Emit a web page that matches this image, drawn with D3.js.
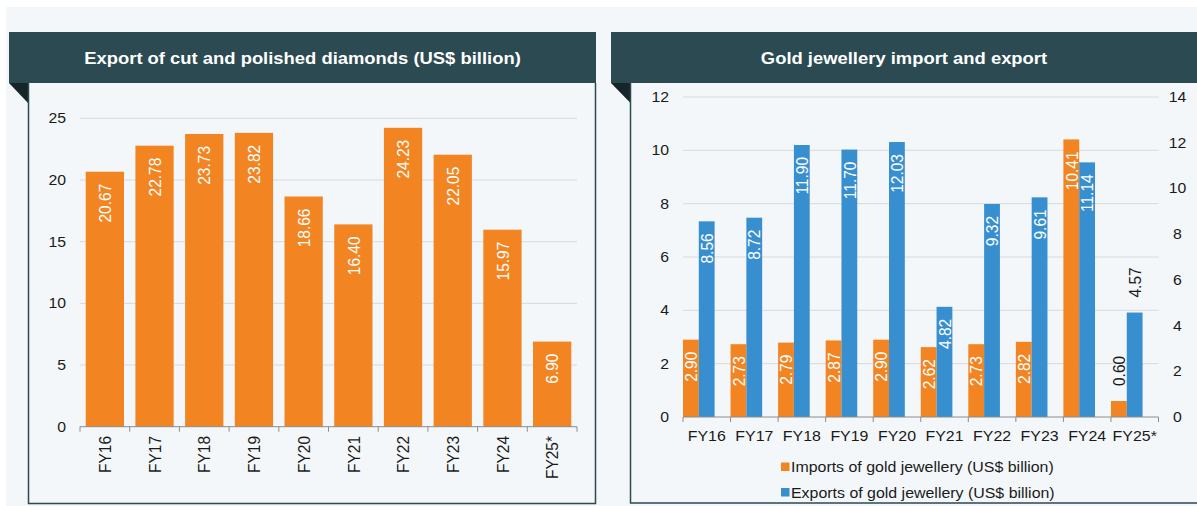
<!DOCTYPE html>
<html><head><meta charset="utf-8">
<script src="https://cdn.jsdelivr.net/npm/d3@7"></script>
<style>
html,body{margin:0;padding:0;background:#fff;}
svg{display:block;font-family:"Liberation Sans",Arial,sans-serif;}
</style></head><body>
<svg id="chart" width="1197" height="506"></svg>
<script>
const categories = ["FY16","FY17","FY18","FY19","FY20","FY21","FY22","FY23","FY24","FY25*"];
const diamondExports = [20.67,22.78,23.73,23.82,18.66,16.40,24.23,22.05,15.97,6.90];
const goldImports = [2.90,2.73,2.79,2.87,2.90,2.62,2.73,2.82,10.41,0.60];
const goldExports = [8.56,8.72,11.90,11.70,12.03,4.82,9.32,9.61,11.14,4.57];
const diamondTicks = [0,5,10,15,20,25];
const goldLeftTicks = [0,2,4,6,8,10,12];
const goldRightTicks = [0,2,4,6,8,10,12,14];
const titles = ["Export of cut and polished diamonds (US$ billion)","Gold jewellery import and export"];
const legendLabels = ["Imports of gold jewellery (US$ billion)","Exports of gold jewellery (US$ billion)"];

const ORANGE = "#f28522", BLUE = "#388fd0", HEAD = "#2b4a52", TRI = "#16252a";
const BG = "#f3f7f9", GRID = "#d9d9d9", AXIS = "#8c8c8c", TXT = "#1a1a1a";
const SX = 1.13;

const svg = d3.select("#chart");
svg.append("rect").attr("width",1197).attr("height",506).attr("fill","#fff");
svg.append("rect").attr("x",6).attr("y",7).attr("width",1191).attr("height",499).attr("fill",BG);

function panel(x0, x1, triX, bottom, title) {
  svg.append("rect").attr("x",x0).attr("y",32).attr("width",x1-x0).attr("height",51).attr("fill",HEAD);
  svg.append("path").attr("d",`M${x0},83 L${triX},83 L${triX},103 Z`).attr("fill",TRI);
  svg.append("text").attr("transform",`translate(${(x0+x1)/2},58) scale(${SX},1)`)
    .attr("text-anchor","middle").attr("dominant-baseline","central")
    .attr("fill","#fff").attr("font-weight","bold").attr("font-size",16.3).text(title);
}
panel(9, 596, 28, 504, titles[0]);
svg.append("path").attr("d","M28.5,83 V503.5 H595.5 V83").attr("fill","none").attr("stroke",HEAD).attr("stroke-width",1.5);
panel(611, 1197, 630.5, 503, titles[1]);
svg.append("path").attr("d","M630.5,83 V503 H1197").attr("fill","none").attr("stroke",HEAD).attr("stroke-width",1.5);

function vtext(g, x, y, str, anchor, color, size) {
  g.append("text").attr("transform",`translate(${x},${y}) rotate(-90) scale(1,1.08)`)
    .attr("text-anchor",anchor).attr("dominant-baseline","central")
    .attr("fill",color).attr("font-size",size).text(str);
}

// ---------- Left chart ----------
{
  const g = svg.append("g");
  const x = d3.scaleBand().domain(categories).range([80,577]).paddingInner(0.23).paddingOuter(0.115);
  const y = d3.scaleLinear().domain([0,25]).range([426.7,118.3]);
  g.selectAll(".grid").data(diamondTicks.filter(t=>t>0)).join("line")
    .attr("x1",80).attr("x2",577).attr("y1",d=>y(d)).attr("y2",d=>y(d))
    .attr("stroke",GRID).attr("stroke-width",1);
  const ya = g.append("g").attr("transform","translate(66,0)")
    .call(d3.axisLeft(y).tickValues(diamondTicks).tickSize(0).tickPadding(0));
  ya.select(".domain").remove();
  ya.selectAll("text").attr("font-size",14).attr("fill",TXT).attr("font-family",null)
    .attr("transform",`scale(${SX},1)`);
  g.selectAll(".bar").data(categories).join("rect")
    .attr("x",c=>x(c)).attr("width",x.bandwidth())
    .attr("y",(c,i)=>y(diamondExports[i])).attr("height",(c,i)=>y(0)-y(diamondExports[i]))
    .attr("fill",ORANGE);
  const y0 = y(0);
  const gap = (x.step()-x.bandwidth())/2;
  g.append("line").attr("x1",80).attr("x2",577).attr("y1",y0).attr("y2",y0).attr("stroke",AXIS);
  categories.concat([null]).forEach((c,i)=>{
    const bx = c ? x(c)-gap : 577;
    g.append("line").attr("x1",bx).attr("x2",bx).attr("y1",y0).attr("y2",y0+5).attr("stroke",AXIS);
  });
  categories.forEach((c,i)=>{
    const cx = x(c)+x.bandwidth()/2;
    vtext(g, cx, y(diamondExports[i])+12, diamondExports[i].toFixed(2), "end", "#fff", 15.5);
    vtext(g, cx, 436, c, "end", TXT, 15.5);
  });
}

// ---------- Right chart ----------
{
  const g = svg.append("g");
  const x = d3.scaleBand().domain(categories).range([683,1158.5]);
  const sub = d3.scaleBand().domain(["imp","exp"]).range([0, x.bandwidth()*0.665]);
  const yL = d3.scaleLinear().domain([0,12]).range([417,97]);
  const yR = d3.scaleLinear().domain([0,14]).range([417,97]);
  g.selectAll(".grid").data(goldLeftTicks.filter(t=>t>0)).join("line")
    .attr("x1",683).attr("x2",1158.5).attr("y1",d=>yL(d)).attr("y2",d=>yL(d))
    .attr("stroke",GRID).attr("stroke-width",1);
  const la = g.append("g").attr("transform","translate(669,0)")
    .call(d3.axisLeft(yL).tickValues(goldLeftTicks).tickSize(0).tickPadding(0));
  la.select(".domain").remove();
  la.selectAll("text").attr("font-size",14).attr("fill",TXT).attr("font-family",null)
    .attr("transform",`scale(${SX},1)`);
  const ra = g.append("g").attr("transform","translate(1177.5,0)")
    .call(d3.axisRight(yR).tickValues(goldRightTicks).tickSize(0).tickPadding(0));
  ra.select(".domain").remove();
  ra.selectAll("text").attr("font-size",14).attr("fill",TXT).attr("font-family",null)
    .attr("text-anchor","middle").attr("transform",`scale(${SX},1)`);

  const series = [
    {key:"imp", vals:goldImports, scale:yL, color:ORANGE},
    {key:"exp", vals:goldExports, scale:yR, color:BLUE}
  ];
  const last = categories[categories.length-1];
  series.forEach(s=>{
    g.selectAll(".b"+s.key).data(categories).join("rect")
      .attr("x",c=>x(c)+sub(s.key)).attr("width",sub.bandwidth())
      .attr("y",(c,i)=>s.scale(s.vals[i])).attr("height",(c,i)=>s.scale(0)-s.scale(s.vals[i]))
      .attr("fill",s.color);
  });
  const y0 = yL(0);
  g.append("line").attr("x1",683).attr("x2",1158.5).attr("y1",y0).attr("y2",y0).attr("stroke",AXIS);
  categories.concat([null]).forEach(c=>{
    const bx = c ? x(c) : 1158.5;
    g.append("line").attr("x1",bx).attr("x2",bx).attr("y1",y0).attr("y2",y0+5).attr("stroke",AXIS);
  });
  series.forEach(s=>{
    categories.forEach((c,i)=>{
      const cx = x(c)+sub(s.key)+sub.bandwidth()/2;
      const top = s.scale(s.vals[i]);
      if (c === last) vtext(g, cx, top-15, s.vals[i].toFixed(2), "start", TXT, 15.5);
      else vtext(g, cx, top+12, s.vals[i].toFixed(2), "end", "#fff", 15.5);
    });
  });
  categories.forEach(c=>{
    g.append("text").attr("transform",`translate(${x(c)+x.bandwidth()/2},441) scale(${SX},1)`)
      .attr("text-anchor","middle").attr("font-size",14.1).attr("fill",TXT).text(c);
  });
  // legend
  [ORANGE, BLUE].forEach((col,i)=>{
    g.append("rect").attr("x",781).attr("y",462.5+i*25.5).attr("width",8.5).attr("height",8.5).attr("fill",col);
    g.append("text").attr("transform",`translate(791,${472+i*25.5}) scale(${SX},1)`)
      .attr("font-size",14.1).attr("fill",TXT).text(legendLabels[i]);
  });
}
</script>
</body></html>
